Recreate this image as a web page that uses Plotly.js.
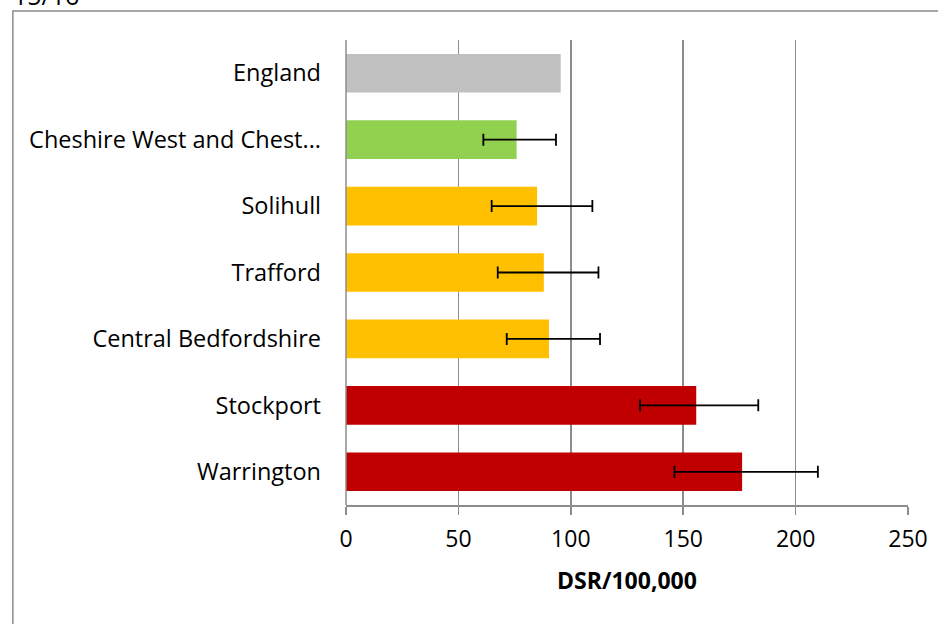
<!DOCTYPE html>
<html>
<head>
<meta charset="utf-8">
<script src="https://cdn.plot.ly/plotly-3.0.1.min.js"></script>
<style>html,body{margin:0;padding:0;background:#fff;}#chart{width:938px;height:624px;}</style>
</head>
<body>
<div id="chart"></div>
<script>
const categories = ["England", "Cheshire West and Chest...", "Solihull", "Trafford", "Central Bedfordshire", "Stockport", "Warrington"];
const values = [95.5, 75.9, 85.0, 88.0, 90.3, 155.8, 176.2];
const lowerCI = [null, 61.1, 64.8, 67.5, 71.5, 130.8, 146.1];
const upperCI = [null, 93.4, 109.6, 112.3, 113.0, 183.4, 209.9];
const barColors = ["#C0C0C0", "#92D050", "#FFC000", "#FFC000", "#FFC000", "#C00000", "#C00000"];
const xTicks = [0, 50, 100, 150, 200, 250];
const periodLabel = "15/16";
const xTitle = "DSR/100,000";

const FONT = "'Open Sans', 'Noto Sans', sans-serif";

// Bars without a confidence interval (benchmark) and bars with one
const noCI = categories.map((c, i) => i).filter(i => lowerCI[i] == null);
const withCI = categories.map((c, i) => i).filter(i => lowerCI[i] != null);

function pick(arr, idx) { return idx.map(i => arr[i]); }

const traceBench = {
  type: "bar",
  orientation: "h",
  y: pick(categories, noCI),
  x: pick(values, noCI),
  width: 0.582,
  marker: {color: pick(barColors, noCI), line: {width: 0}},
  hoverinfo: "none"
};

const traceAreas = {
  type: "bar",
  orientation: "h",
  y: pick(categories, withCI),
  x: pick(values, withCI),
  width: 0.582,
  marker: {color: pick(barColors, withCI), line: {width: 0}},
  error_x: {
    type: "data",
    symmetric: false,
    array: withCI.map(i => upperCI[i] - values[i]),
    arrayminus: withCI.map(i => values[i] - lowerCI[i]),
    color: "#000000",
    thickness: 1.8,
    width: 6
  },
  hoverinfo: "none"
};

const layout = {
  width: 938,
  height: 624,
  margin: {l: 346, r: 30.3, t: 40, b: 118.5, pad: 0},
  paper_bgcolor: "#ffffff",
  plot_bgcolor: "#ffffff",
  showlegend: false,
  barmode: "overlay",
  font: {family: FONT, color: "#000000", size: 23.5},
  xaxis: {
    range: [0, 250],
    tickvals: xTicks,
    ticktext: xTicks.map(String),
    showgrid: true,
    gridcolor: "#8c8c8c",
    gridwidth: 1.5,
    zeroline: false,
    showline: true,
    linecolor: "#8c8c8c",
    linewidth: 1.5,
    ticks: "outside",
    ticklen: 8,
    tickcolor: "#8c8c8c",
    tickwidth: 1.5,
    ticklabelstandoff: 5,
    tickfont: {family: FONT, size: 23, color: "#000000"},
    title: {text: "<b>" + xTitle + "</b>", font: {family: FONT, size: 23, color: "#000000"}, standoff: 20},
    fixedrange: true
  },
  yaxis: {
    type: "category",
    categoryorder: "array",
    categoryarray: categories,
    autorange: "reversed",
    showgrid: false,
    zeroline: false,
    showline: false,
    ticks: "",
    ticklabelstandoff: 24,
    tickfont: {family: FONT, size: 23.5, color: "#000000"},
    fixedrange: true
  },
  shapes: [
    {type: "line", xref: "paper", yref: "paper", x0: 0, x1: 0, y0: 0, y1: 1, line: {color: "#8c8c8c", width: 1.5}, layer: "above"},
    {type: "rect", xref: "paper", yref: "paper", x0: -0.5928, x1: 2, y0: -1, y1: 1.0623, line: {color: "#8c8c8c", width: 1.5}, fillcolor: "rgba(0,0,0,0)"}
  ],
  annotations: [
    {text: periodLabel, xref: "paper", yref: "paper", x: -0.5928, y: 1.062, xanchor: "left", yanchor: "bottom", showarrow: false, font: {family: FONT, size: 25, color: "#000000"}, xshift: -2, yshift: -3}
  ]
};

Plotly.newPlot("chart", [traceBench, traceAreas], layout, {displayModeBar: false, staticPlot: true});
</script>
</body>
</html>
